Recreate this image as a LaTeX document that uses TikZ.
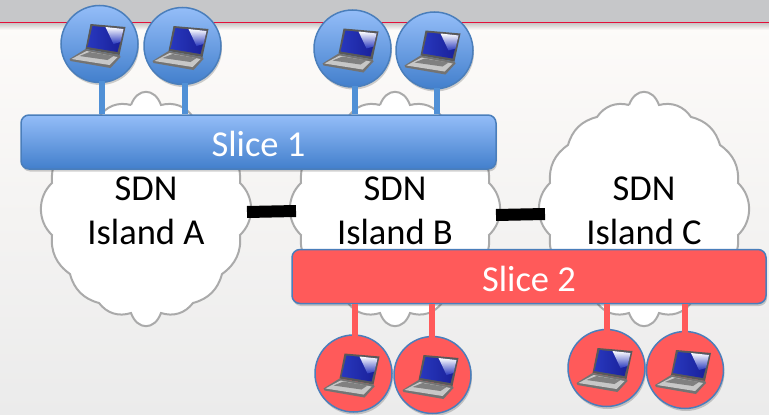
\documentclass[tikz,border=0pt]{standalone}
\usepackage{fontspec}
\setmainfont{Carlito}
\usetikzlibrary{shadows,calc}
\definecolor{outline}{RGB}{74,126,187}
\definecolor{blue-top}{RGB}{148,189,248}
\definecolor{blue-bottom}{RGB}{66,127,204}
\definecolor{blue-stem}{RGB}{80,144,214}
\definecolor{red-fill}{RGB}{255,90,90}
\definecolor{cloudline}{RGB}{170,170,170}
\definecolor{headgray}{RGB}{198,199,201}
\definecolor{headred}{RGB}{226,16,58}
\definecolor{page-top}{RGB}{253,251,249}
\definecolor{page-bottom}{RGB}{235,235,235}
\definecolor{screen-dark}{RGB}{24,30,150}
\definecolor{screen-light}{RGB}{40,56,190}

\tikzset{
    softshadow/.style={drop shadow={shadow xshift=1pt, shadow yshift=-2.5pt, opacity=0.18, fill=black}},
    sliceblue/.style={draw=outline, line width=1.5pt, rounded corners=8pt, top color=blue-top, bottom color=blue-bottom, softshadow, text=white, text height=30pt, font=\fontsize{36.5}{44}\selectfont},
    slicered/.style={draw=outline, line width=1.5pt, rounded corners=8pt, fill=red-fill, softshadow, text=white, text height=30pt, font=\fontsize{36.5}{44}\selectfont},
    hostblue/.style={circle, minimum size=77pt, inner sep=0pt, draw=outline, line width=1.5pt, top color=blue-top, bottom color=blue-bottom, softshadow},
    hostred/.style={circle, minimum size=77pt, inner sep=0pt, draw=outline, line width=1.5pt, fill=red-fill, softshadow},
    stemblue/.style={blue-stem, line width=6pt},
    stemred/.style={red-fill, line width=6pt},
    islandtext/.style={align=center, font=\fontsize{36.5}{44}\selectfont},
    link/.style={black, line width=12pt},
    laptop/.pic={
        % screen lid
        \fill[black!65] (-9,-20) -- (26,-17) -- (20,11) -- (-14,5) -- cycle;
        \shade[left color=screen-light, right color=screen-dark] (-7,-18) -- (24,-15) -- (18,8) -- (-12,3) -- cycle;
        \shade[top color=white, bottom color=screen-light] (6,-17) -- (24,-15) -- (21,-2) -- (14,0) -- cycle;
        % base with keys
        \fill[black!55] (-14,5) -- (-30,15) -- (-29,17) -- (11,24) -- (21,13) -- (20,11) -- cycle;
        \fill[black!22] (-13,7) -- (-28,15) -- (10,21) -- (18,13) -- cycle;
        \fill[black!50] (-10,8) -- (-20,12) -- (8,16) -- (14,12) -- cycle;
    }
}

% cusps of the cloud, clockwise, x relative to the middle of the island
\newcommand{\island}[2]{
    \begin{scope}[xshift=#1pt]
        \draw[cloudline, line width=2pt, fill=white] (-15,105)
            \foreach \px/\py/\bend/\loose in {15/105/70/1.6, 47/117/35/1, 76/145/30/1, 94/183/30/1, 94/235/47/1, 76/274/30/1, 47/303/30/1, 15/313/35/1, -15/313/70/1.6, -47/303/35/1, -76/274/30/1, -94/235/30/1, -94/183/47/1, -76/145/30/1, -47/117/30/1, -15/105/35/1}
            { to[bend left=\bend, looseness=\loose] (\px,\py) };
        \node[islandtext] (island#2) at (0,211) {SDN\\Island #2};
        \coordinate (island#2-west) at (-99,0);
        \coordinate (island#2-east) at (101,0);
    \end{scope}
}

\begin{document}
\begin{tikzpicture}[x=1pt, y=-1pt]
    \useasboundingbox (0,0) rectangle (769,415);

    \shade[top color=page-top, bottom color=page-bottom] (0,22) rectangle (769,415);
    \shade[top color=black!22, bottom color=page-top] (0,23) rectangle (769,30);
    \fill[headgray] (0,0) rectangle (769,22);
    \fill[headred] (0,22) rectangle (769,23.3);

    \island{146}{A}
    \island{395}{B}
    \island{644}{C}

    \draw[link] (islandA-east |- 0,212) -- (islandB-west |- 0,211);
    \draw[link] (islandB-east |- 0,215) -- (islandC-west |- 0,214);

    % hosts first, the stems run over their rims
    \foreach \name/\hx/\hy in {hostA/99.5/44, hostB/182.5/46, hostC/352.5/48.5, hostD/434.5/50.5}{
        \node[hostblue] (\name) at (\hx,\hy) {};
        \pic at (\name) {laptop};
    }
    \foreach \name/\hx/\hy in {hostE/353.5/373.5, hostF/432.5/375, hostG/606.5/368, hostH/685/370}{
        \node[hostred] (\name) at (\hx,\hy) {};
        \pic at (\name) {laptop};
    }

    \node[sliceblue, minimum width=475pt, minimum height=54pt] (slice1) at (258.5,142) {Slice 1};
    \node[slicered, minimum width=474pt, minimum height=54pt] (slice2) at (529,276.5) {Slice 2};

    \foreach \name/\ang in {hostA/274, hostB/273, hostC/273, hostD/274}{
        \draw[stemblue] ($(\name.\ang)+(0,-2)$) -- (\name.\ang |- slice1.north);
    }
    \foreach \name/\ang in {hostE/88.5, hostF/91.5, hostG/90, hostH/90}{
        \draw[stemred] (\name.\ang |- slice2.south) -- ($(\name.\ang)+(0,2)$);
    }

\end{tikzpicture}
\end{document}
